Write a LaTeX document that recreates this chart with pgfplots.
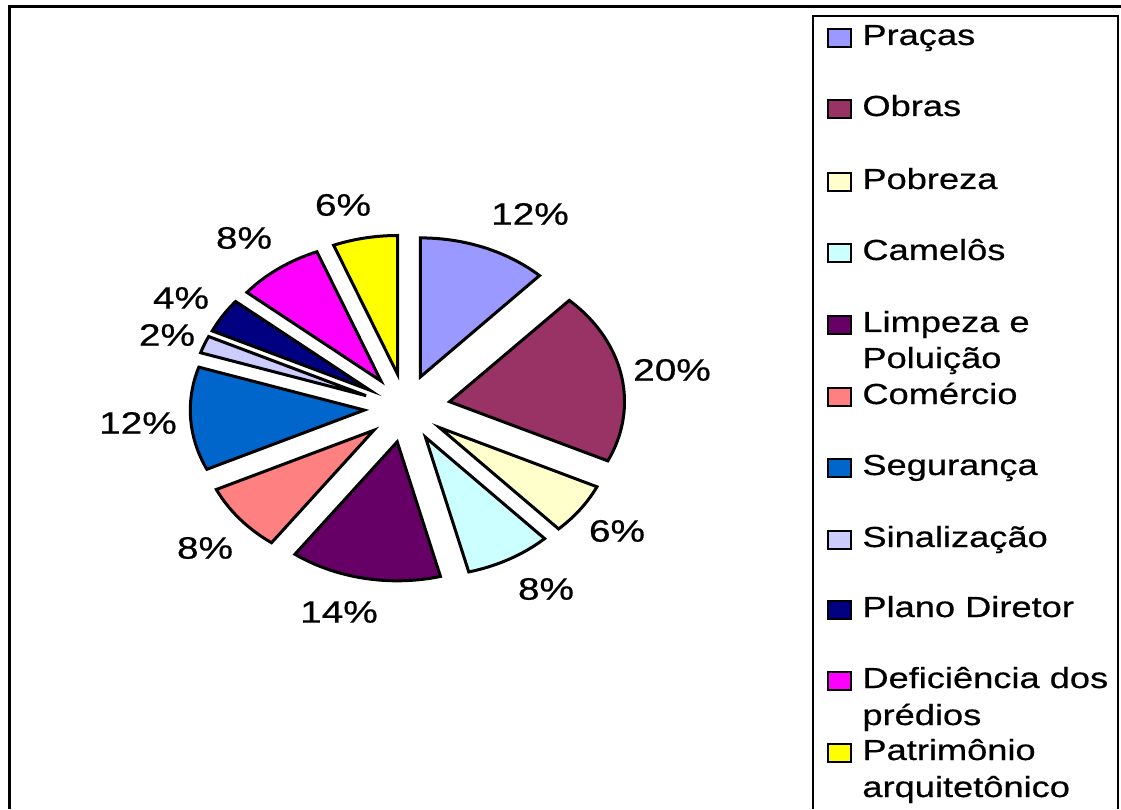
\documentclass[border=0pt]{standalone}
\usepackage{pgfplots}
\pgfplotsset{compat=1.18}
\usepackage{fontspec}
\setmainfont{Liberation Sans}[FakeBold=0.5]
\definecolor{cPracas}{HTML}{9999FF}
\definecolor{cObras}{HTML}{993366}
\definecolor{cPobreza}{HTML}{FFFFCC}
\definecolor{cCamelos}{HTML}{CCFFFF}
\definecolor{cLimpeza}{HTML}{660066}
\definecolor{cComercio}{HTML}{FF8080}
\definecolor{cSeguranca}{HTML}{0066CC}
\definecolor{cSinal}{HTML}{CCCCFF}
\definecolor{cPlano}{HTML}{000080}
\definecolor{cDefic}{HTML}{FF00FF}
\definecolor{cPatri}{HTML}{FFFF00}
\newcommand{\lbl}[1]{\fontsize{15.5}{18}\selectfont\scalebox{1.25}[1]{#1}}
\newcommand{\leg}[1]{\fontsize{14.5}{17}\selectfont\scalebox{1.25}[1]{#1}}
\newcommand{\legkey}[2]{\draw[fill=#1, line width=1pt] (828,-#2+16) rectangle (851,-#2-2);}
\begin{document}
\begin{tikzpicture}
\begin{axis}[name=ax, scale only axis, width=560.5pt, height=404.5pt,
  xmin=0, xmax=1121, ymin=-809, ymax=0, hide axis, clip=false]
% shares (%): 12, 20, 6, 8, 14, 8, 12, 2, 4, 8, 6 -- clockwise from 12 o'clock
\pgfplotsset{slice/.style={draw=black, line width=1.5pt, samples=60}}
\addplot[slice, fill=cPracas,   domain=46.8:90]     ({420.4+174*cos(x)},{-376.9+139*sin(x)}) -- (420.4,-376.9) -- cycle;
\addplot[slice, fill=cObras,    domain=-25.2:46.8]  ({449.5+175*cos(x)},{-401.7+139*sin(x)}) -- (449.5,-401.7) -- cycle;
\addplot[slice, fill=cPobreza,  domain=-46.8:-25.2] ({439.5+174*cos(x)},{-427.6+139*sin(x)}) -- (439.5,-427.6) -- cycle;
\addplot[slice, fill=cCamelos,  domain=-75.6:-46.8] ({425.5+174*cos(x)},{-437.3+139*sin(x)}) -- (425.5,-437.3) -- cycle;
\addplot[slice, fill=cLimpeza,  domain=-126:-75.6]  ({397.2+174*cos(x)},{-441.8+139*sin(x)}) -- (397.2,-441.8) -- cycle;
\addplot[slice, fill=cComercio, domain=-154.8:-126] ({373.8+174*cos(x)},{-430.3+139*sin(x)}) -- (373.8,-430.3) -- cycle;
\addplot[slice, fill=cSeguranca,domain=-198:-154.8] ({364.3+174*cos(x)},{-410.1+139*sin(x)}) -- (364.3,-410.1) -- cycle;
\addplot[slice, fill=cSinal,    domain=-205.2:-198] ({366.1+174*cos(x)},{-395.7+139*sin(x)}) -- (366.1,-395.7) -- cycle;
\addplot[slice, fill=cPlano,    domain=-219.6:-205.2] ({369.7+174*cos(x)},{-390.1+139*sin(x)}) -- (369.7,-390.1) -- cycle;
\addplot[slice, fill=cDefic,    domain=-248.4:-219.6] ({381.0+174*cos(x)},{-381.0+139*sin(x)}) -- (381.0,-381.0) -- cycle;
\addplot[slice, fill=cPatri,    domain=-270:-248.4] ({397.7+174*cos(x)},{-374.5+139*sin(x)}) -- (397.7,-374.5) -- cycle;
% percentage labels
\node at (530,-214) {\lbl{12\%}};
\node at (672,-370) {\lbl{20\%}};
\node at (617,-531) {\lbl{6\%}};
\node at (546,-589) {\lbl{8\%}};
\node at (339,-612) {\lbl{14\%}};
\node at (205,-548) {\lbl{8\%}};
\node at (138,-423) {\lbl{12\%}};
\node at (167,-335) {\lbl{2\%}};
\node at (181,-298) {\lbl{4\%}};
\node at (244,-238) {\lbl{8\%}};
\node at (343,-205) {\lbl{6\%}};
% frame
\draw[line width=1.5pt] (9.5,-809) -- (9.5,-7) -- (1121,-7);
% legend
\draw[line width=0.6pt] (813,-809) -- (813,-16) -- (1118,-16) -- (1118,-809);
\legkey{cPracas}{45}
\legkey{cObras}{116}
\legkey{cPobreza}{189}
\legkey{cCamelos}{260}
\legkey{cLimpeza}{332}
\legkey{cComercio}{404}
\legkey{cSeguranca}{475}
\legkey{cSinal}{547}
\legkey{cPlano}{617}
\legkey{cDefic}{688}
\legkey{cPatri}{760}
\node[anchor=base west, inner sep=0pt] at (862,-45) {\leg{Praças}};
\node[anchor=base west, inner sep=0pt] at (862,-116) {\leg{Obras}};
\node[anchor=base west, inner sep=0pt] at (862,-189) {\leg{Pobreza}};
\node[anchor=base west, inner sep=0pt] at (862,-260) {\leg{Camelôs}};
\node[anchor=base west, inner sep=0pt] at (862,-332) {\leg{Limpeza e}};
\node[anchor=base west, inner sep=0pt] at (862,-368) {\leg{Poluição}};
\node[anchor=base west, inner sep=0pt] at (862,-404) {\leg{Comércio}};
\node[anchor=base west, inner sep=0pt] at (862,-475) {\leg{Segurança}};
\node[anchor=base west, inner sep=0pt] at (862,-547) {\leg{Sinalização}};
\node[anchor=base west, inner sep=0pt] at (862,-617) {\leg{Plano Diretor}};
\node[anchor=base west, inner sep=0pt] at (862,-688) {\leg{Deficiência dos}};
\node[anchor=base west, inner sep=0pt] at (862,-725) {\leg{prédios}};
\node[anchor=base west, inner sep=0pt] at (862,-760) {\leg{Patrimônio}};
\node[anchor=base west, inner sep=0pt] at (862,-797) {\leg{arquitetônico}};
\end{axis}
\pgfresetboundingbox
\path (ax.south west) rectangle (ax.north east);
\end{tikzpicture}
\end{document}
